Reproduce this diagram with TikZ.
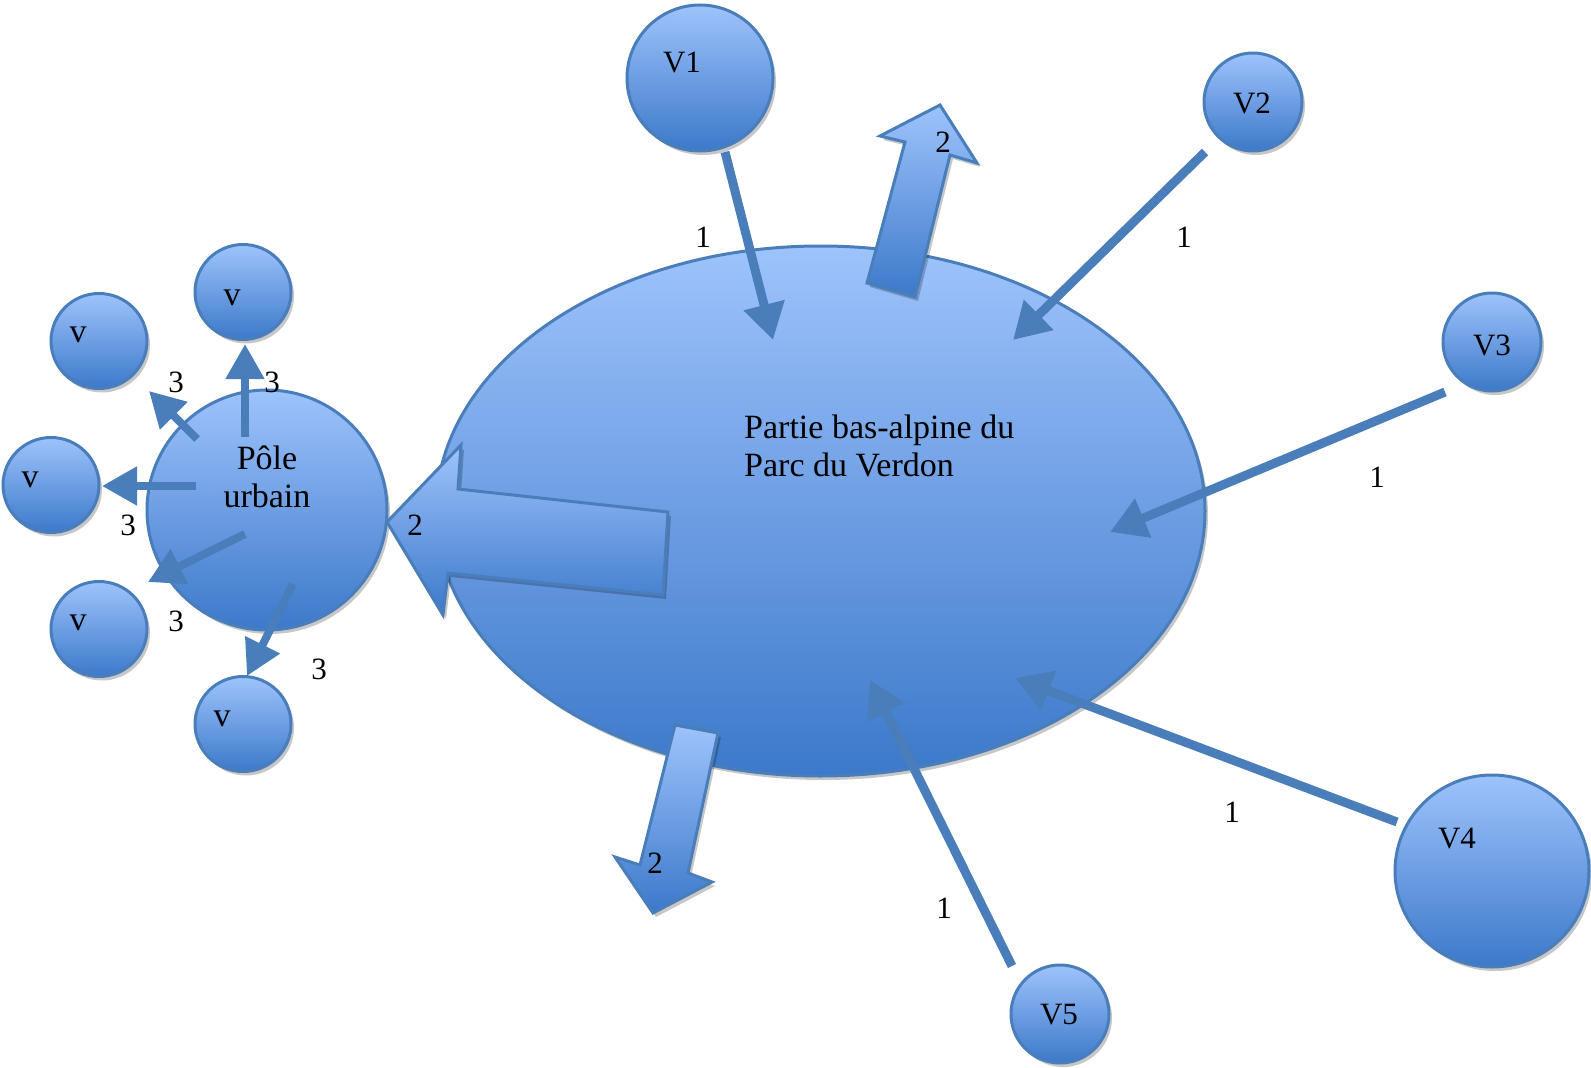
\documentclass[tikz,border=0pt]{standalone}
\usepackage{fontspec}
\setmainfont{Liberation Serif}
\usetikzlibrary{shapes.geometric,arrows.meta,shadows}
\definecolor{edgeblue}{RGB}{74,126,187}
\definecolor{lightblue}{RGB}{158,195,252}
\definecolor{darkblue}{RGB}{60,121,202}
\definecolor{arrowblue}{RGB}{74,126,187}
\tikzset{
  softshadow/.style={drop shadow={shadow xshift=3pt, shadow yshift=-4pt, opacity=0.22, fill=black}},
  bubble/.style={ellipse, draw=edgeblue, line width=3pt, top color=lightblue, bottom color=darkblue,
    inner sep=0pt, outer sep=0pt, softshadow},
  blockarrow/.style={draw=edgeblue, line width=3pt, line join=miter, top color=lightblue,
    bottom color=darkblue, softshadow},
  thinarrow/.style={draw=arrowblue, line width=9pt, -{Triangle[length=36pt,width=40pt]}},
  smallarrow/.style={draw=arrowblue, line width=8pt, -{Triangle[length=35pt,width=37pt]}},
  lbl/.style={inner sep=0pt, font=\fontsize{31}{36}\selectfont},
  vlbl/.style={inner sep=0pt, font=\fontsize{34}{36}\selectfont},
  bigtxt/.style={inner sep=0pt, font=\fontsize{34}{38}\selectfont},
}
\begin{document}
\begin{tikzpicture}[x=1pt,y=-1pt]
\useasboundingbox[fill=white] (0,0) rectangle (1591,1068);

% main ellipse
\node[bubble, minimum width=769pt, minimum height=530pt] (parc) at (820.5,511) {};

% pole urbain and satellites
\node[bubble, minimum width=240pt, minimum height=240pt] (pole) at (267,510) {};
\node[bubble, minimum width=96pt, minimum height=95pt] (vt) at (243,292) {};
\node[bubble, minimum width=96pt, minimum height=95pt] (vul) at (99,341) {};
\node[bubble, minimum width=96pt, minimum height=95pt] (vl) at (51,485) {};
\node[bubble, minimum width=96pt, minimum height=95pt] (vll) at (99,629) {};
\node[bubble, minimum width=96pt, minimum height=95pt] (vb) at (243,724) {};

% villages V1..V5
\node[bubble, minimum width=146pt, minimum height=146pt] (V1) at (700,78) {};
\node[bubble, minimum width=98pt, minimum height=98pt] (V2) at (1253,102) {};
\node[bubble, minimum width=98pt, minimum height=98pt] (V3) at (1492,342) {};
\node[bubble, minimum width=194pt, minimum height=192pt] (V4) at (1492,871) {};
\node[bubble, minimum width=98pt, minimum height=98pt] (V5) at (1060,1014) {};

% block arrows
\filldraw[blockarrow] (387,522) -- (461,445) -- (458,489) -- (668,512) -- (663,595)
  -- (448,573) -- (443,615) -- cycle;
\filldraw[blockarrow] (940,105) -- (977,163) -- (950,155) -- (915,297) -- (867,283)
  -- (905,142) -- (880,136) -- cycle;
\filldraw[blockarrow] (675,725) -- (718,733) -- (688,873) -- (712,882) -- (653,913)
  -- (615,857) -- (640,865) -- cycle;

% thin arrows from villages
\coordinate (V1s) at (725,152);  \coordinate (V1e) at (773,340);
\coordinate (V2s) at (1205,152); \coordinate (V2e) at (1013,340);
\coordinate (V3s) at (1445,392); \coordinate (V3e) at (1110,532);
\coordinate (V4s) at (1397,822); \coordinate (V4e) at (1015,678);
\coordinate (V5s) at (1012,966); \coordinate (V5e) at (870,680);
\draw[thinarrow] (V1s) -- (V1e);
\draw[thinarrow] (V2s) -- (V2e);
\draw[thinarrow] (V3s) -- (V3e);
\draw[thinarrow] (V4s) -- (V4e);
\draw[thinarrow] (V5s) -- (V5e);

% small arrows from pole
\coordinate (p1) at (245,437); \coordinate (q1) at (245,344);
\coordinate (p2) at (197,439); \coordinate (q2) at (149,391);
\coordinate (p3) at (196,486); \coordinate (q3) at (102,486);
\coordinate (p4) at (245,534); \coordinate (q4) at (148,582);
\coordinate (p5) at (293,584); \coordinate (q5) at (247,676);
\draw[smallarrow] (p1) -- (q1);
\draw[smallarrow] (p2) -- (q2);
\draw[smallarrow] (p3) -- (q3);
\draw[smallarrow] (p4) -- (q4);
\draw[smallarrow] (p5) -- (q5);

% texts
\node[bigtxt, align=left, anchor=north west] (parctxt) at (744,415) {Partie bas-alpine du\\Parc du Verdon};
\node[bigtxt, align=center, anchor=north] (poletxt) at (267,446) {Pôle\\urbain};

\node[lbl] (V1t) at (682,63) {V1};
\node[lbl] (V2t) at (1252,103) {V2};
\node[lbl] (V3t) at (1492,345) {V3};
\node[lbl] (V4t) at (1457,839) {V4};
\node[lbl] (V5t) at (1059,1015) {V5};

\node[vlbl] (vtt) at (232,298) {v};
\node[vlbl] (vult) at (78,335) {v};
\node[vlbl] (vlt) at (30,480) {v};
\node[vlbl] (vllt) at (78,623) {v};
\node[vlbl] (vbt) at (222,719) {v};

\node[lbl] (n1a) at (703,237) {1};
\node[lbl] (n1b) at (1184,237) {1};
\node[lbl] (n1c) at (1377,477) {1};
\node[lbl] (n1d) at (1232,812) {1};
\node[lbl] (n1e) at (944,908) {1};

\node[lbl] (n2a) at (943,142) {2};
\node[lbl] (n2b) at (415,525) {2};
\node[lbl] (n2c) at (655,863) {2};

\node[lbl] (n3a) at (176,382) {3};
\node[lbl] (n3b) at (272,382) {3};
\node[lbl] (n3c) at (128,525) {3};
\node[lbl] (n3d) at (176,621) {3};
\node[lbl] (n3e) at (319,669) {3};
\end{tikzpicture}
\end{document}
